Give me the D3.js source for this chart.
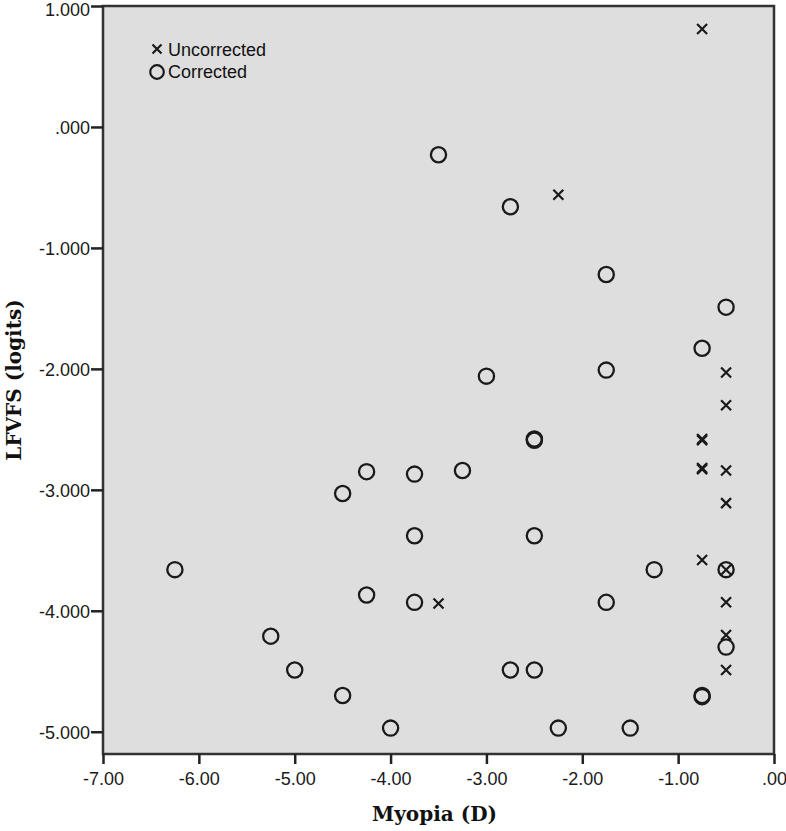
<!DOCTYPE html>
<html>
<head>
<meta charset="utf-8">
<script src="https://cdn.jsdelivr.net/npm/d3@7"></script>
<style>
  body { margin: 0; background: #fff; }
  svg { display: block; }
  .axis text { font-family: "Liberation Sans", Arial, sans-serif; font-size: 18px; fill: #1a1a1a; }
  .axis path, .axis line { stroke: #222; stroke-width: 2.5; }
  .title { font-family: "DejaVu Serif", "Liberation Serif", serif; font-weight: bold; font-size: 20px; fill: #111; }
  .legend text { font-family: "Liberation Sans", Arial, sans-serif; font-size: 18px; fill: #111; }
</style>
</head>
<body>
<div id="chart"></div>
<script>
// myopia (D) and LFVFS (logits)
const uncorrectedX = [-0.75, -2.25, -0.5, -0.5, -0.75, -0.75, -0.75, -0.75, -0.5, -0.5, -0.75, -0.5, -3.5, -0.5, -0.5, -0.5];
const uncorrectedY = [0.81, -0.56, -2.03, -2.30, -2.58, -2.59, -2.82, -2.83, -2.84, -3.11, -3.58, -3.66, -3.94, -3.93, -4.20, -4.49];

const correctedX = [-3.5, -2.75, -1.75, -0.5, -0.75, -1.75, -3.0, -2.5, -2.5, -4.25, -3.75, -3.25, -4.5, -3.75, -2.5, -6.25, -1.25, -0.5, -4.25, -3.75, -1.75, -5.25, -5.0, -2.75, -2.5, -0.5, -4.5, -0.75, -0.75, -4.0, -2.25, -1.5];
const correctedY = [-0.23, -0.66, -1.22, -1.49, -1.83, -2.01, -2.06, -2.58, -2.59, -2.85, -2.87, -2.84, -3.03, -3.38, -3.38, -3.66, -3.66, -3.66, -3.87, -3.93, -3.93, -4.21, -4.49, -4.49, -4.49, -4.30, -4.70, -4.70, -4.71, -4.97, -4.97, -4.97];

const xTicks = [-7, -6, -5, -4, -3, -2, -1, 0];
const yTicks = [1, 0, -1, -2, -3, -4, -5];
const legendLabels = ["Uncorrected", "Corrected"];

const width = 786, height = 831;
const margin = { top: 6, right: 12, bottom: 77, left: 103 };
const plotW = width - margin.left - margin.right;
const plotH = height - margin.top - margin.bottom;

const svg = d3.select("#chart").append("svg")
  .attr("width", width)
  .attr("height", height);

const g = svg.append("g")
  .attr("transform", "translate(" + margin.left + "," + margin.top + ")");

const x = d3.scaleLinear().domain([-7, 0]).range([0, plotW]);
const y = d3.scaleLinear().domain([1, -5.184]).range([0, plotH]);

// SPSS-style number labels: plain hyphen, no leading zero
const noZero = (f) => (v) => {
  let s = d3.format(f)(v).replace("\u2212", "-");
  return s.replace(/^0\./, ".").replace(/^-0\./, "-.");
};

g.append("rect")
  .attr("width", plotW)
  .attr("height", plotH)
  .attr("fill", "#dedede")
  .attr("stroke", "#333")
  .attr("stroke-width", 2.5);

g.append("g")
  .attr("class", "axis x")
  .attr("transform", "translate(0," + plotH + ")")
  .call(d3.axisBottom(x).tickValues(xTicks).tickFormat(noZero(".2f")).tickSizeOuter(0).tickSize(10).tickPadding(8))
  .call(a => a.select(".domain").remove());

g.append("g")
  .attr("class", "axis y")
  .call(d3.axisLeft(y).tickValues(yTicks).tickFormat(noZero(".3f")).tickSizeOuter(0).tickSize(12).tickPadding(1))
  .call(a => a.select(".domain").remove());

g.selectAll(".axis text").attr("dy", null);
g.selectAll(".axis.x text").attr("dy", "0.71em");
g.selectAll(".axis.y text").attr("dy", (d) => d === 1 ? "0.55em" : "0.36em");

// axis titles
svg.append("text")
  .attr("class", "title")
  .attr("x", margin.left + x(-3.5) - 4)
  .attr("y", 821)
  .attr("text-anchor", "middle")
  .text("Myopia (D)");

svg.append("text")
  .attr("class", "title")
  .attr("transform", "translate(21," + 380 + ") rotate(-90)")
  .attr("text-anchor", "middle")
  .text("LFVFS (logits)");

const crossPath = (s) => "M" + (-s) + "," + (-s) + "L" + s + "," + s + "M" + (-s) + "," + s + "L" + s + "," + (-s);

// corrected: open circles
g.selectAll(".corr")
  .data(correctedX.map((d, i) => [d, correctedY[i]]))
  .enter().append("circle")
  .attr("class", "corr")
  .attr("cx", d => x(d[0]))
  .attr("cy", d => y(d[1]))
  .attr("r", 7.6)
  .attr("fill", "none")
  .attr("stroke", "#1a1a1a")
  .attr("stroke-width", 2.3);

// uncorrected: crosses
g.selectAll(".unc")
  .data(uncorrectedX.map((d, i) => [d, uncorrectedY[i]]))
  .enter().append("path")
  .attr("class", "unc")
  .attr("transform", d => "translate(" + x(d[0]) + "," + y(d[1]) + ")")
  .attr("d", crossPath(5))
  .attr("fill", "none")
  .attr("stroke", "#1a1a1a")
  .attr("stroke-width", 2.2);

// legend
const legend = svg.append("g").attr("class", "legend");
legend.append("path")
  .attr("transform", "translate(157,49)")
  .attr("d", crossPath(4.5))
  .attr("stroke", "#1a1a1a")
  .attr("stroke-width", 2.2);
legend.append("circle")
  .attr("cx", 157).attr("cy", 72).attr("r", 6.8)
  .attr("fill", "none").attr("stroke", "#1a1a1a").attr("stroke-width", 2.2);
legend.selectAll("text")
  .data(legendLabels)
  .enter().append("text")
  .attr("x", 168)
  .attr("y", (d, i) => 56 + i * 22)
  .text(d => d);
</script>
</body>
</html>
